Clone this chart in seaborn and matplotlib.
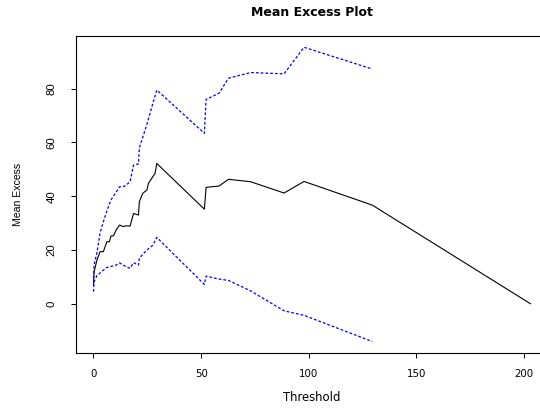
import numpy as np
import pandas as pd
import matplotlib
matplotlib.use("Agg")
import matplotlib.pyplot as plt
import seaborn as sns

# mean excess values
threshold = [0, 0.3, 1.6, 3.1, 4.6, 6.2, 7.4, 8.1, 9.3, 10.5, 12.1, 13.9, 14.7, 17.0,
             18.6, 20.9, 21.3, 22.9, 24.8, 25.5, 27.6, 28.6, 29.4, 51.5, 52.3, 58.3,
             62.7, 73.0, 88.5, 97.8, 129.5, 203.0]
mean_excess = [7.0, 11.9, 16.3, 19.4, 19.4, 23.1, 23.1, 25.2, 25.3, 27.4, 29.3, 28.7, 29.0, 28.9,
               33.6, 33.0, 38.0, 41.1, 42.3, 44.8, 47.3, 48.5, 52.2, 35.2, 43.3, 43.8,
               46.3, 45.4, 41.2, 45.5, 36.7, 0.0]

# confidence band (stops at ~130)
ci_threshold = [0, 0.3, 1.6, 3.1, 4.6, 6.2, 8.1, 10.5, 12.1, 14.7, 17.0, 18.6, 20.9, 21.3,
                24.8, 27.6, 29.4, 51.5, 52.3, 58.3, 62.7, 73.0, 88.5, 97.8, 129.5]
ci_upper = [9.5, 14.5, 19.0, 26.5, 30.5, 34.5, 38.6, 41.5, 43.5, 43.8, 45.4, 51.6, 52.0, 58.0,
            66.7, 74.6, 79.5, 63.4, 76.0, 78.3, 83.9, 86.0, 85.5, 95.4, 87.3]
ci_lower = [4.5, 8.2, 10.5, 11.5, 12.5, 13.5, 13.9, 14.4, 15.2, 14.0, 13.2, 15.3, 14.4, 17.0,
            20.0, 21.8, 24.7, 7.2, 10.3, 9.2, 8.7, 4.8, -2.6, -4.3, -14.0]

me_df = pd.DataFrame({"Threshold": threshold, "Mean Excess": mean_excess})
ci_df = pd.DataFrame({"Threshold": ci_threshold, "upper": ci_upper, "lower": ci_lower})

sns.set_theme(style="ticks")
plt.rcParams['font.family'] = ['DejaVu Sans']
plt.rcParams.update({"text.color": "black", "axes.labelcolor": "black",
                     "xtick.color": "black", "ytick.color": "black",
                     "axes.edgecolor": "black"})

fig = plt.figure(figsize=(5.4, 4.08), dpi=100)
# plot region runs past the right edge of the picture, like the reference crop
ax = fig.add_axes([76 / 540, 1 - 353.3 / 408, 472 / 540, 317.6 / 408])

sns.lineplot(data=me_df, x="Threshold", y="Mean Excess", sort=False, estimator=None,
             color="black", linewidth=0.8, ax=ax)
for col in ["upper", "lower"]:
    sns.lineplot(data=ci_df, x="Threshold", y=col, sort=False, estimator=None,
                 color="#0000ff", linewidth=0.9, dashes=False, ax=ax)
for line in ax.lines[1:]:
    line.set_dashes((2.2, 1.6))

ax.set_xlim(-8.12, 211.1)
ax.set_ylim(-18.4, 99.7)
ax.set_xticks([0, 50, 100, 150, 200])
ax.set_yticks([0, 20, 40, 60, 80])

for s in ax.spines.values():
    s.set_visible(True)
    s.set_linewidth(0.8)
    s.set_color("black")

ax.tick_params(axis="both", length=3.6, width=0.75, color="black", labelcolor="black")
ax.tick_params(axis="x", pad=7.5, labelsize=7.4)
ax.tick_params(axis="y", pad=10.5)
for lab in ax.get_yticklabels():
    lab.set_rotation(90)
    lab.set_family("Liberation Sans")
    lab.set_fontsize(8.2)
    lab.set_va("center")

ax.set_xlabel("Threshold", fontsize=8.4, color="black")
ax.set_ylabel("Mean Excess", fontsize=7.6, family="Liberation Sans", color="black")
ax.xaxis.set_label_coords(0.5, -0.12)
ax.yaxis.set_label_coords(-0.112, 0.5)

fig.text(312 / 540, 1 - 15.5 / 408, "Mean Excess Plot", ha="center", va="baseline",
         fontsize=9, fontweight="bold", color="black")

fig.savefig("out.png", dpi=100)
